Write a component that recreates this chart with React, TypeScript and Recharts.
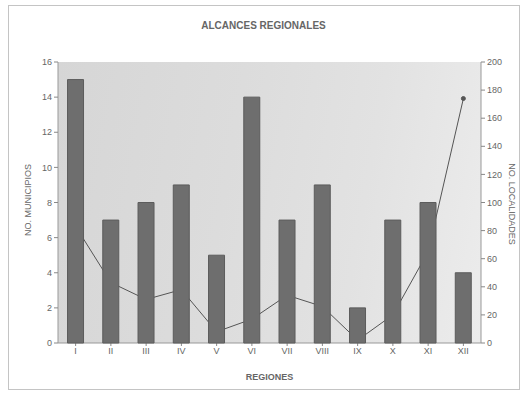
import { ComposedChart, Bar, Line, XAxis, YAxis } from 'recharts';

const regiones = ['I', 'II', 'III', 'IV', 'V', 'VI', 'VII', 'VIII', 'IX', 'X', 'XI', 'XII'];
const municipios = [15, 7, 8, 9, 5, 14, 7, 9, 2, 7, 8, 4];
const localidades = [83, 43, 31, 38, 8, 17, 34, 26, 2, 20, 65, 174];
const leftTicks = [0, 2, 4, 6, 8, 10, 12, 14, 16];
const rightTicks = [0, 20, 40, 60, 80, 100, 120, 140, 160, 180, 200];

const data = regiones.map((r, i) => ({ region: r, municipios: municipios[i], localidades: localidades[i] }));

const FONT = '"Liberation Sans", Arial, sans-serif';
const tickStyle = { fontSize: 9, fill: '#666', fontFamily: FONT };

export default function App() {
  return (
    <div style={{ position: 'absolute', left: 0, top: 0, width: 527, height: 395, background: '#fff', fontFamily: FONT }}>
      {/* frame */}
      <div style={{ position: 'absolute', left: 8, top: 5, width: 510, height: 383, border: '1px solid #c4c4c4' }} />
      {/* plot background */}
      <div
        style={{
          position: 'absolute',
          left: 58,
          top: 62,
          width: 423,
          height: 281,
          background: 'linear-gradient(100deg, #d6d6d6 0%, #dcdcdc 40%, #e2e2e2 70%, #ececec 100%)',
        }}
      />
      <div style={{ position: 'absolute', left: 0, width: 527, top: 20, textAlign: 'center', fontSize: 10, fontWeight: 'bold', color: '#666' }}>
        ALCANCES REGIONALES
      </div>
      {/* axes + line (underneath) */}
      <ComposedChart
        width={527}
        height={395}
        data={data}
        margin={{ top: 62, right: 8, bottom: 22, left: 8 }}
        barCategoryGap="27%"
        style={{ position: 'absolute', left: 0, top: 0 }}
      >
        <XAxis
          dataKey="region"
          tick={tickStyle}
          tickLine={{ stroke: '#888' }}
          axisLine={{ stroke: '#999' }}
          tickSize={3}
          height={30}
        />
        <YAxis
          yAxisId="left"
          domain={[0, 16]}
          ticks={leftTicks}
          tick={tickStyle}
          tickLine={{ stroke: '#888' }}
          axisLine={{ stroke: '#999' }}
          tickSize={4}
          width={50}
          interval={0}
        />
        <YAxis
          yAxisId="right"
          orientation="right"
          domain={[0, 200]}
          ticks={rightTicks}
          tick={tickStyle}
          tickLine={{ stroke: '#888' }}
          axisLine={{ stroke: '#999' }}
          tickSize={4}
          width={38}
          interval={0}
        />
        <Bar yAxisId="left" dataKey="municipios" fill="none" stroke="none" isAnimationActive={false} />
        <Line
          yAxisId="right"
          dataKey="localidades"
          type="linear"
          stroke="#555"
          strokeWidth={1}
          dot={{ r: 2, fill: '#555', stroke: '#555' }}
          isAnimationActive={false}
        />
      </ComposedChart>
      {/* bars drawn on top of the line */}
      <ComposedChart
        width={527}
        height={395}
        data={data}
        margin={{ top: 62, right: 46, bottom: 52, left: 58 }}
        barCategoryGap="27%"
        style={{ position: 'absolute', left: 0, top: 0 }}
      >
        <XAxis dataKey="region" hide />
        <YAxis yAxisId="left" domain={[0, 16]} hide />
        <Bar yAxisId="left" dataKey="municipios" fill="#6e6e6e" stroke="#5c5c5c" isAnimationActive={false} />
      </ComposedChart>
      <div
        style={{
          position: 'absolute',
          left: 28,
          top: 200,
          transform: 'translate(-50%, -50%) rotate(-90deg)',
          fontSize: 9,
          color: '#666',
          whiteSpace: 'nowrap',
        }}
      >
        NO. MUNICIPIOS
      </div>
      <div
        style={{
          position: 'absolute',
          left: 512,
          top: 204,
          transform: 'translate(-50%, -50%) rotate(90deg)',
          fontSize: 9,
          color: '#666',
          whiteSpace: 'nowrap',
        }}
      >
        NO. LOCALIDADES
      </div>
      <div style={{ position: 'absolute', left: 58, width: 423, top: 372, textAlign: 'center', fontSize: 9, fontWeight: 'bold', color: '#666' }}>
        REGIONES
      </div>
    </div>
  );
}
